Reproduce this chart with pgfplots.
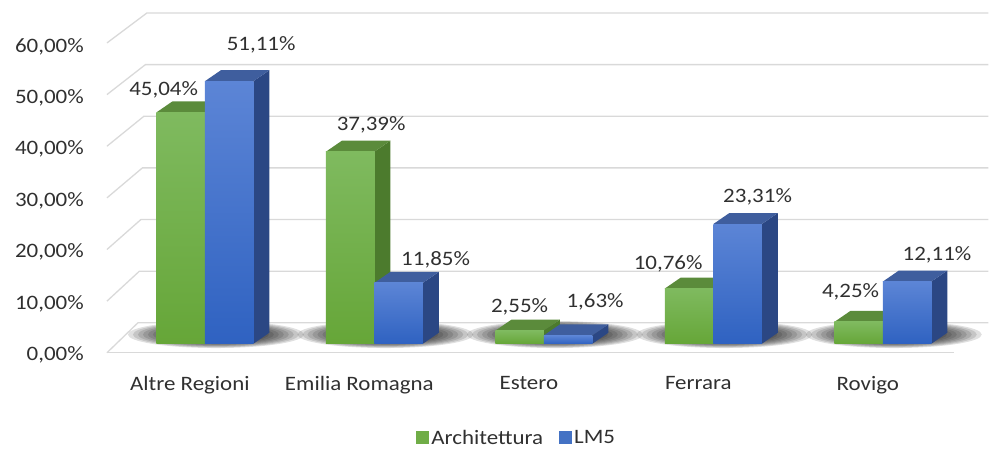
\documentclass[border=0pt]{standalone}
\usepackage{pgfplots}
\pgfplotsset{compat=1.18}
\usepackage{pgfplotstable}
\usepackage{fontspec}
\setmainfont{Carlito}[FakeStretch=1.12]

\definecolor{txt}{HTML}{303030}
\definecolor{gridc}{HTML}{D9D9D9}
\definecolor{gFt}{HTML}{7FBA5F}
\definecolor{gFb}{HTML}{66A638}
\definecolor{gTop}{HTML}{5B8B3B}
\definecolor{gSide}{HTML}{4C7B2D}
\definecolor{bFt}{HTML}{5C85D6}
\definecolor{bFb}{HTML}{2F62C1}
\definecolor{bTop}{HTML}{3F5E9E}
\definecolor{bSide}{HTML}{2B4784}
\definecolor{legG}{HTML}{70AD47}
\definecolor{legB}{HTML}{4472C4}

\pgfkeys{/pgf/number format/.cd,fixed,fixed zerofill,precision=2,use comma,assume math mode=true}

% i: category, A: Architettura, L: LM5, ax/ay lx/ly: label offsets (pt)
\pgfplotstableread{
i A L ax ay lx ly
0 45.04 51.11 -17 23 32 36
1 37.39 11.85 21 27 37 23
2 2.55 1.63 0 24 27 34
3 10.76 23.31 -21 25 20 27
4 4.25 12.11 -8 30 30 27
}\datatable

\def\bw{0.286}
\def\ddx{0.0943}
\def\ddy{2.14}
\newcommand\lblfont{\fontsize{20.5}{24}\selectfont}

\newcommand\barfaces[5]{%
 \pgfmathsetmacro\xa{#1}%
 \pgfmathsetmacro\xb{\xa+\bw}%
 \pgfmathsetmacro\xc{\xa+\ddx}%
 \pgfmathsetmacro\xd{\xb+\ddx}%
 \pgfmathsetmacro\ya{#2}%
 \pgfmathsetmacro\yb{\ya+\ddy}%
 \edef\tmp{%
  \noexpand\addplot[forget plot, draw=none, fill=#5] coordinates {(\xb,0) (\xd,\ddy) (\xd,\yb) (\xb,\ya)};
  \noexpand\addplot[forget plot, draw=none, fill=#4] coordinates {(\xa,\ya) (\xb,\ya) (\xd,\yb) (\xc,\yb)};
  \noexpand\addplot[forget plot, draw=none, #3] coordinates {(\xa,0) (\xb,0) (\xb,\ya) (\xa,\ya)};
 }\tmp}

\begin{document}
\begin{tikzpicture}
\begin{axis}[
  scale only axis, width=989pt, height=449pt,
  xmin=-1.20873, xmax=4.62264, ymin=-20.428, ymax=66.926,
  axis line style={draw=none}, major tick length=0pt, tick style={draw=none},
  clip=false, no markers,
  xtick={0,...,4},
  xticklabels={Altre Regioni, Emilia Romagna, Estero, Ferrara, Rovigo},
  ytick={0,10,...,60},
  yticklabels={{0,00\%},{10,00\%},{20,00\%},{30,00\%},{40,00\%},{50,00\%},{60,00\%}},
  ticklabel style={font=\lblfont, color=txt},
  xticklabel style={anchor=north, inner sep=0pt, yshift=73pt, xshift=-15pt},
  yticklabel style={anchor=east, inner sep=0pt, xshift=84pt, yshift=-11pt},
  legend style={at={(0.5228,0.0245)}, anchor=center, draw=none, fill=none,
    font=\lblfont, text=txt, legend columns=2,
    /tikz/every even column/.append style={column sep=14pt}},
  legend image code/.code={\fill[#1] (0pt,-6.5pt) rectangle (13pt,6.5pt);},
]
% back wall / floor grid
\pgfplotsinvokeforeach{0,10,...,60}{
  \draw[gridc, line width=1.3pt] (-0.5778,{#1-1.751+0.0052*#1}) -- ({-0.395+0.000884*#1},{#1+4.086+0.0052*#1}) -- (4.6226,{#1+4.086+0.0052*#1});
}
\draw[gridc, line width=1.3pt] (-0.5778,-1.751) -- (4.4222,-1.751);

% soft shadows (stacked translucent ellipses)
\pgfplotsinvokeforeach{0,...,11}{
  \fill[black, opacity=0.12] (0.065,1.8) ellipse [x radius={88pt-5pt*#1}, y radius={13.5pt-0.7pt*#1}];
  \fill[black, opacity=0.12] (1.065,1.8) ellipse [x radius={88pt-5pt*#1}, y radius={13.5pt-0.7pt*#1}];
  \fill[black, opacity=0.12] (2.065,1.8) ellipse [x radius={88pt-5pt*#1}, y radius={13.5pt-0.7pt*#1}];
  \fill[black, opacity=0.12] (3.065,1.8) ellipse [x radius={88pt-5pt*#1}, y radius={13.5pt-0.7pt*#1}];
  \fill[black, opacity=0.12] (4.065,1.8) ellipse [x radius={88pt-5pt*#1}, y radius={13.5pt-0.7pt*#1}];
}

% bars and labels
\pgfplotsinvokeforeach{0,...,4}{
  \pgfplotstablegetelem{#1}{A}\of\datatable \let\vA\pgfplotsretval
  \pgfplotstablegetelem{#1}{L}\of\datatable \let\vL\pgfplotsretval
  \pgfplotstablegetelem{#1}{ax}\of\datatable \let\vax\pgfplotsretval
  \pgfplotstablegetelem{#1}{ay}\of\datatable \let\vay\pgfplotsretval
  \pgfplotstablegetelem{#1}{lx}\of\datatable \let\vlx\pgfplotsretval
  \pgfplotstablegetelem{#1}{ly}\of\datatable \let\vly\pgfplotsretval
  \barfaces{#1-\bw}{\vA}{top color=gFt, bottom color=gFb}{gTop}{gSide}
  \barfaces{#1}{\vL}{top color=bFt, bottom color=bFb}{bTop}{bSide}
  \pgfmathsetmacro\xcA{#1-\bw/2}
  \pgfmathsetmacro\xcL{#1+\bw/2}
  \edef\tmp{%
    \noexpand\node[font=\noexpand\lblfont, text=txt, xshift=\vax pt, yshift=\vay pt] at (\xcA,\vA) {\noexpand\pgfmathprintnumber{\vA}\noexpand\%};
    \noexpand\node[font=\noexpand\lblfont, text=txt, xshift=\vlx pt, yshift=\vly pt] at (\xcL,\vL) {\noexpand\pgfmathprintnumber{\vL}\noexpand\%};
  }\tmp
}

\addlegendimage{fill=legG, draw=none}
\addlegendentry{Architettura}
\addlegendimage{fill=legB, draw=none}
\addlegendentry{LM5}
\end{axis}
\end{tikzpicture}
\end{document}
